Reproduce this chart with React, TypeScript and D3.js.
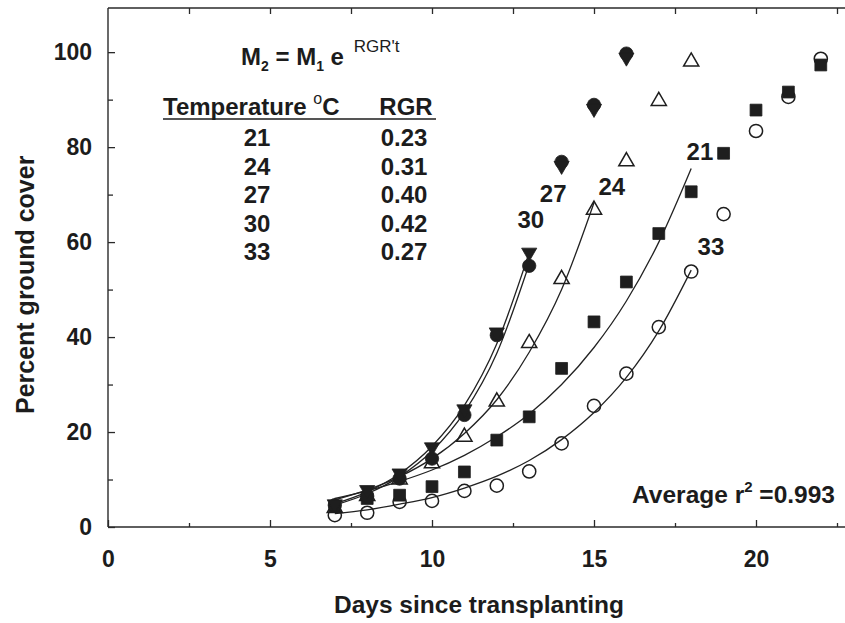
import { useEffect, useRef } from "react";
import * as d3 from "d3";

const W = 845;
const H = 623;

// ── Observed ground cover (%) by day since transplanting ─────────────────────
const days21 = [7, 8, 9, 10, 11, 12, 13, 14, 15, 16, 17, 18, 19, 20, 21, 22];
const cover21 = [4.3, 6.0, 6.7, 8.5, 11.6, 18.3, 23.2, 33.4, 43.2, 51.6, 61.8, 70.6, 78.7, 87.8, 91.6, 97.3];

const days33 = [7, 8, 9, 10, 11, 12, 13, 14, 15, 16, 17, 18, 19, 20, 21, 22];
const cover33 = [2.5, 3.0, 5.3, 5.5, 7.6, 8.7, 11.7, 17.6, 25.5, 32.3, 42.1, 53.8, 65.9, 83.4, 90.6, 98.6];

const days24 = [7, 8, 9, 10, 11, 12, 13, 14, 15, 16, 17, 18];
const cover24 = [4.0, 6.5, 10.0, 13.4, 19.0, 26.4, 38.7, 52.2, 66.8, 77.0, 89.7, 98.0];

const days27 = [7, 8, 9, 10, 11, 12, 13, 14, 15, 16];
const cover27 = [4.6, 6.5, 10.2, 14.4, 23.6, 40.4, 55.0, 76.9, 88.9, 99.7];

const days30 = [7, 8, 9, 10, 11, 12, 13, 14, 15, 16];
const cover30 = [4.8, 7.8, 11.3, 16.8, 24.8, 41.0, 57.8, 76.1, 88.1, 98.9];

// ── Fitted exponential curves ────────────────────────────────────────────────
const fitDays21 = [7, 8, 9, 10, 11, 12, 13, 14, 15, 16, 17, 18];
const fit21 = [6.0, 7.6, 9.6, 12.0, 15.1, 19.0, 23.8, 30.0, 37.8, 47.6, 60.0, 75.5];
const fitDays24 = [7, 8, 9, 10, 11, 12, 13, 14, 15];
const fit24 = [5.7, 7.8, 10.6, 14.4, 19.7, 26.8, 36.8, 50.0, 68.3];
const fitDays27 = [7, 8, 9, 10, 11, 12, 13];
const fit27 = [4.6, 7.0, 10.6, 16.0, 24.2, 36.6, 55.4];
const fitDays30 = [7, 8, 9, 10, 11, 12, 13];
const fit30 = [4.9, 7.4, 11.2, 17.0, 25.6, 38.6, 57.8];
const fitDays33 = [7, 8, 9, 10, 11, 12, 13, 14, 15, 16, 17, 18];
const fit33 = [2.8, 3.6, 4.8, 6.2, 8.2, 10.7, 14.0, 18.4, 24.1, 31.5, 41.3, 54.1];

// ── Table + labels ───────────────────────────────────────────────────────────
const temps = ["21", "24", "27", "30", "33"];
const rgrs = ["0.23", "0.31", "0.40", "0.42", "0.27"];
const curveLabels = ["30", "27", "24", "21", "33"];
const curveLabelX = [13.05, 13.74, 15.55, 18.27, 18.61];
const curveLabelY = [64.8, 70.3, 71.8, 79.0, 59.0];

const xTicks = [0, 5, 10, 15, 20];
const xMinor = [2.5, 7.5, 12.5, 17.5, 22.5];
const yTicks = [0, 20, 40, 60, 80, 100];
const yMinor = [10, 30, 50, 70, 90];

const FONT = "'Liberation Sans', Arial, Helvetica, sans-serif";
const INK = "#1c1c1c";

type Marker = "square" | "circleOpen" | "triUp" | "circle" | "triDown";

export default function App() {
  const ref = useRef<SVGSVGElement>(null);

  useEffect(() => {
    if (!ref.current) return;
    const svg = d3.select(ref.current);
    svg.selectAll("*").remove();

    const x = d3.scaleLinear().domain([0, 23]).range([108, 108 + 23 * 32.4]);
    const y = d3.scaleLinear().domain([0, 109.3]).range([527, 8]);

    const g = svg.append("g");

    // ── Frame ────────────────────────────────────────────────────────────────
    const frame = g.append("g").attr("stroke", "#2a2a2a").attr("stroke-width", 1.4).attr("fill", "none");
    frame.append("line").attr("x1", x(0)).attr("x2", x(0)).attr("y1", y(109.3)).attr("y2", y(0));
    frame.append("line").attr("x1", x(0)).attr("x2", x(23)).attr("y1", y(0)).attr("y2", y(0));
    frame.append("line").attr("x1", x(0)).attr("x2", x(23)).attr("y1", y(109.3)).attr("y2", y(109.3));

    const styleAxis = (ag: d3.Selection<SVGGElement, unknown, null, undefined>) => {
      ag.select(".domain").remove();
      ag.selectAll(".tick line").attr("stroke", "#2a2a2a").attr("stroke-width", 1.3);
      ag.selectAll(".tick text")
        .attr("fill", INK)
        .attr("font-family", FONT)
        .attr("font-weight", "bold")
        .attr("font-size", 23);
    };

    // left axis
    g.append("g")
      .attr("transform", `translate(${x(0)},0)`)
      .call(d3.axisLeft(y).tickValues(yTicks).tickSize(-7).tickPadding(16).tickFormat(d3.format("d")))
      .call(styleAxis);
    g.append("g")
      .attr("transform", `translate(${x(0)},0)`)
      .call(d3.axisLeft(y).tickValues(yMinor).tickSize(-5).tickFormat(() => ""))
      .call(styleAxis);

    // bottom axis
    g.append("g")
      .attr("transform", `translate(0,${y(0)})`)
      .call(d3.axisBottom(x).tickValues(xTicks).tickSize(-7).tickPadding(24).tickFormat(d3.format("d")))
      .call(styleAxis);
    g.append("g")
      .attr("transform", `translate(0,${y(0)})`)
      .call(d3.axisBottom(x).tickValues(xMinor).tickSize(-4).tickFormat(() => ""))
      .call(styleAxis);

    // top axis ticks
    g.append("g")
      .attr("transform", `translate(0,${y(109.3)})`)
      .call(d3.axisTop(x).tickValues([...xTicks.filter((t) => t > 0), ...xMinor]).tickSize(-6).tickFormat(() => ""))
      .call(styleAxis);

    // axis titles
    g.append("text")
      .attr("x", 479).attr("y", 613)
      .attr("text-anchor", "middle")
      .attr("font-family", FONT).attr("font-weight", "bold").attr("font-size", 24.5)
      .attr("fill", INK)
      .text("Days since transplanting");

    g.append("text")
      .attr("transform", `translate(25,${y(51)}) rotate(-90)`)
      .attr("text-anchor", "middle")
      .attr("dominant-baseline", "central")
      .attr("font-family", FONT).attr("font-weight", "bold").attr("font-size", 25)
      .attr("fill", INK)
      .text("Percent ground cover");

    // ── Fitted curves ────────────────────────────────────────────────────────
    const line = d3.line<[number, number]>()
      .x((d) => x(d[0]))
      .y((d) => y(d[1]))
      .curve(d3.curveMonotoneX);

    const fits: [number[], number[]][] = [
      [fitDays21, fit21],
      [fitDays24, fit24],
      [fitDays27, fit27],
      [fitDays30, fit30],
      [fitDays33, fit33],
    ];
    fits.forEach(([ds, vs]) => {
      g.append("path")
        .datum(ds.map((d, i) => [d, vs[i]] as [number, number]))
        .attr("fill", "none")
        .attr("stroke", "#222")
        .attr("stroke-width", 1.3)
        .attr("d", line);
    });

    // ── Markers ──────────────────────────────────────────────────────────────
    const series: { days: number[]; vals: number[]; marker: Marker }[] = [
      { days: days33, vals: cover33, marker: "circleOpen" },
      { days: days24, vals: cover24, marker: "triUp" },
      { days: days21, vals: cover21, marker: "square" },
      { days: days27, vals: cover27, marker: "circle" },
      { days: days30, vals: cover30, marker: "triDown" },
    ];

    const symbolFor = (m: Marker) => {
      switch (m) {
        case "square": return d3.symbol(d3.symbolSquare, 140)();
        case "circleOpen": return d3.symbol(d3.symbolCircle, 136)();
        case "circle": return d3.symbol(d3.symbolCircle, 140)();
        case "triUp": return d3.symbol(d3.symbolTriangle, 100)();
        case "triDown": return d3.symbol(d3.symbolTriangle, 100)();
      }
    };

    series.forEach((s) => {
      const open = s.marker === "circleOpen" || s.marker === "triUp";
      g.append("g")
        .selectAll("path")
        .data(s.days.map((d, i) => [d, s.vals[i]]))
        .join("path")
        .attr("d", symbolFor(s.marker) as string)
        .attr("transform", (d) =>
          `translate(${x(d[0])},${y(d[1])})${s.marker === "triDown" ? " rotate(180)" : ""}`)
        .attr("fill", open ? "none" : "#1e1e1e")
        .attr("stroke", "#1e1e1e")
        .attr("stroke-width", open ? 1.5 : 0.8);
    });

    // ── Curve labels ─────────────────────────────────────────────────────────
    curveLabels.forEach((t, i) => {
      g.append("text")
        .attr("x", x(curveLabelX[i]))
        .attr("y", y(curveLabelY[i]))
        .attr("text-anchor", "middle")
        .attr("dominant-baseline", "central")
        .attr("font-family", FONT).attr("font-weight", "bold").attr("font-size", 24)
        .attr("fill", INK)
        .text(t);
    });

    // ── Equation ─────────────────────────────────────────────────────────────
    const eq = g.append("text")
      .attr("x", 241).attr("y", 65)
      .attr("font-family", FONT).attr("font-weight", "bold").attr("font-size", 24)
      .attr("fill", INK);
    eq.append("tspan").text("M");
    eq.append("tspan").attr("font-size", 14).attr("dy", 6).text("2");
    eq.append("tspan").attr("dy", -6).text(" = M");
    eq.append("tspan").attr("font-size", 14).attr("dy", 6).text("1");
    eq.append("tspan").attr("dy", -6).text(" e ");
    eq.append("tspan")
      .attr("font-size", 17).attr("font-weight", "normal")
      .attr("dx", 3).attr("dy", -13)
      .text("RGR't");

    // ── Table ────────────────────────────────────────────────────────────────
    const hdr = g.append("text")
      .attr("x", 163).attr("y", 115)
      .attr("font-family", FONT).attr("font-weight", "bold").attr("font-size", 24)
      .attr("fill", INK);
    hdr.append("tspan").text("Temperature ");
    hdr.append("tspan").attr("font-size", 16).attr("font-weight", "normal").attr("dy", -11).text("o");
    hdr.append("tspan").attr("dy", 11).text("C");

    g.append("text")
      .attr("x", 406).attr("y", 115)
      .attr("text-anchor", "middle")
      .attr("font-family", FONT).attr("font-weight", "bold").attr("font-size", 24)
      .attr("fill", INK)
      .text("RGR");

    g.append("line")
      .attr("x1", 163).attr("x2", 436)
      .attr("y1", 119).attr("y2", 119)
      .attr("stroke", INK).attr("stroke-width", 1.6);

    temps.forEach((t, i) => {
      const by = 146 + i * 28.6;
      g.append("text")
        .attr("x", 257).attr("y", by)
        .attr("text-anchor", "middle")
        .attr("font-family", FONT).attr("font-weight", "bold").attr("font-size", 24)
        .attr("fill", INK)
        .text(t);
      g.append("text")
        .attr("x", 404).attr("y", by)
        .attr("text-anchor", "middle")
        .attr("font-family", FONT).attr("font-weight", "bold").attr("font-size", 24)
        .attr("fill", INK)
        .text(rgrs[i]);
    });

    // ── Average r² ───────────────────────────────────────────────────────────
    const r2 = g.append("text")
      .attr("x", 835).attr("y", 503)
      .attr("text-anchor", "end")
      .attr("font-family", FONT).attr("font-weight", "bold").attr("font-size", 24.5)
      .attr("fill", INK);
    r2.append("tspan").text("Average r");
    r2.append("tspan").attr("font-size", 15).attr("dy", -11).text("2");
    r2.append("tspan").attr("dy", 11).text(" =0.993");
  }, []);

  return (
    <svg
      ref={ref}
      width={W}
      height={H}
      style={{ position: "absolute", left: 0, top: 0, background: "#fff", display: "block" }}
    />
  );
}
